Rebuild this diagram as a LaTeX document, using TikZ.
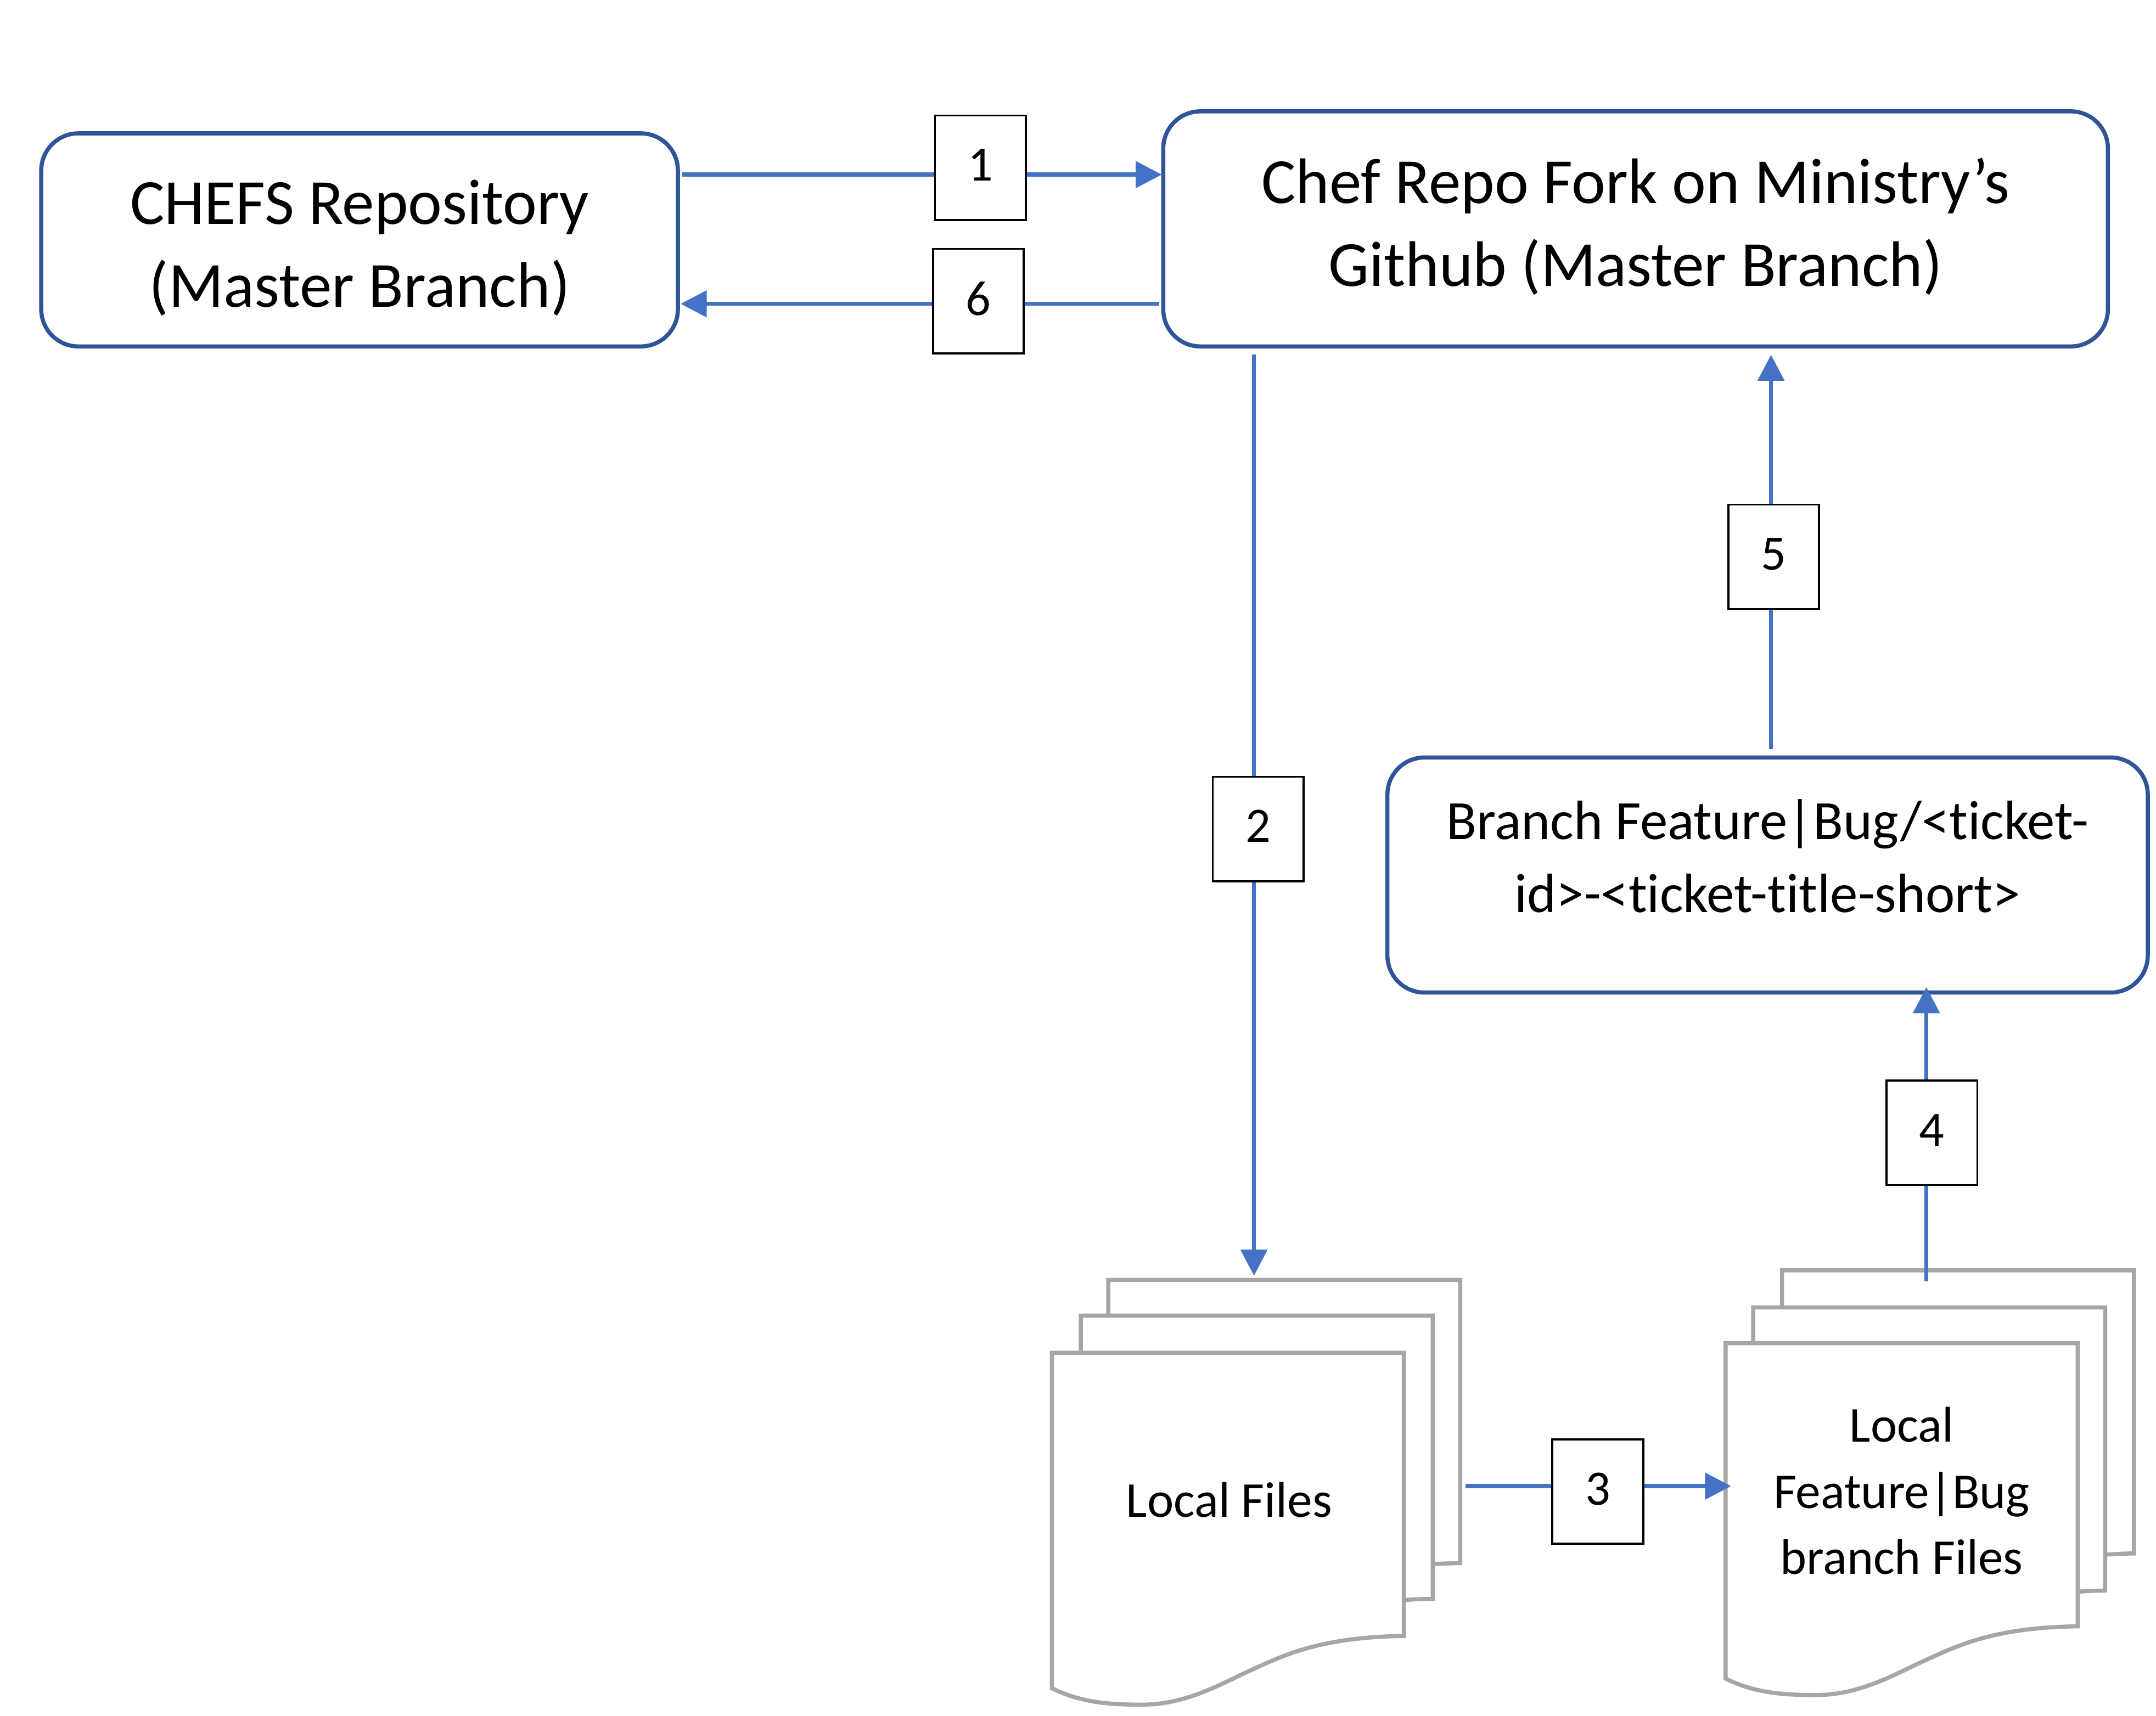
\documentclass[tikz,border=0pt]{standalone}
\usepackage{fontspec}
\setmainfont{Carlito}[Ligatures=NoCommon]
\usetikzlibrary{arrows.meta}
\definecolor{flowblue}{HTML}{4472C4}
\definecolor{boxblue}{HTML}{2F5597}
\definecolor{pagegray}{HTML}{A6A6A6}
\tikzset{
  repo/.style={draw=boxblue,line width=3pt,rounded corners=27pt,fill=white,align=center,inner sep=0pt},
  num/.style={draw=black,line width=1.5pt,fill=white,minimum width=66pt,minimum height=76pt,inner sep=0pt,text depth=4pt,font=\fontsize{36}{40}\selectfont},
  flow/.style={draw=flowblue,line width=3pt},
  flowtip/.style={flow,-{Triangle[length=19pt,width=19pt]}},
  page/.style={draw=pagegray,line width=3pt,fill=white},
  pagetext/.style={align=center,inner sep=0pt,font=\fontsize{36.5}{48}\selectfont}
}
\newcommand{\docpage}[2]{\path[page,shift={(#1,#2)}] (0,0) -- (256,0) -- (256,206) .. controls (190,207) and (165,222) .. (138,234) .. controls (110,248) and (90,256) .. (65,256) .. controls (40,256) and (20,254) .. (0,244) -- cycle;}
\begin{document}
\begin{tikzpicture}[x=1pt,y=-1pt]
\useasboundingbox (0,0) rectangle (1568,1247.9);
\node[repo,minimum width=463pt,minimum height=155pt,font=\fontsize{46.8}{60.5}\selectfont] (chefs) at (261.5,174.5) {\rule{0pt}{44pt}CHEFS Repository\\(Master Branch)};
\node[repo,minimum width=687pt,minimum height=171pt,font=\fontsize{46.8}{60.5}\selectfont] (fork) at (1189.5,166.5) {Chef Repo Fork on Ministry’s\\Github (Master Branch)\rule[-10pt]{0pt}{10pt}};
\node[repo,minimum width=553pt,minimum height=171pt,font=\fontsize{40.3}{53}\selectfont] (branch) at (1285.5,636.5) {Branch Feature|Bug/<ticket-\\id>-<ticket-title-short>\rule[-28pt]{0pt}{28pt}};
%% the page stacks
\docpage{806}{931}
\docpage{786}{957}
\docpage{765}{984}
\docpage{1296}{924}
\docpage{1275}{951}
\docpage{1255}{977}
\node[pagetext] (localfiles) at (894,1091) {Local Files};
\node[pagetext] (localbranch) at (1383,1084.5) {Local\\Feature|Bug\\branch Files};
\node[num] (n1) at (713,122) {1};
\node[num] (n2) at (915,603) {2};
\node[num] (n3) at (1162,1085) {3};
\node[num] (n4) at (1405,824) {4};
\node[num] (n5) at (1290,405) {5};
\node[num] (n6) at (711.5,219) {6};
\coordinate (a1) at (496,127);
\coordinate (b1) at (845,127);
\coordinate (a6) at (843,221);
\coordinate (b6) at (495,221);
\coordinate (a2) at (912,258);
\coordinate (b2) at (912,928);
\coordinate (a3) at (1066,1081);
\coordinate (b3) at (1259,1081);
\coordinate (a4) at (1401,932);
\coordinate (b4) at (1401,718);
\coordinate (a5) at (1288,545);
\coordinate (b5) at (1288,258);
\draw[flow] (a1) -- (a1 -| n1.west);
\draw[flowtip] (a1 -| n1.east) -- (b1);
\draw[flow] (a6) -- (a6 -| n6.east);
\draw[flowtip] (a6 -| n6.west) -- (b6);
\draw[flow] (a2) -- (a2 |- n2.north);
\draw[flowtip] (a2 |- n2.south) -- (b2);
\draw[flow] (a3) -- (a3 -| n3.west);
\draw[flowtip] (a3 -| n3.east) -- (b3);
\draw[flow] (a4) -- (a4 |- n4.south);
\draw[flowtip] (a4 |- n4.north) -- (b4);
\draw[flow] (a5) -- (a5 |- n5.south);
\draw[flowtip] (a5 |- n5.north) -- (b5);
\end{tikzpicture}
\end{document}
